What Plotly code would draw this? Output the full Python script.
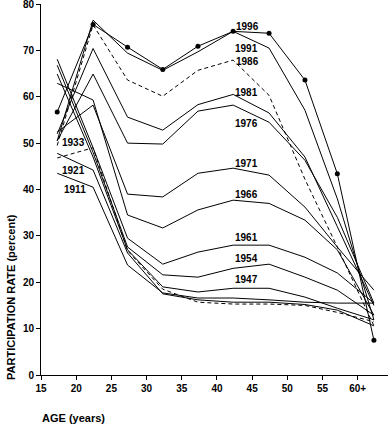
import plotly.graph_objects as go

ages = [17.3, 22.4, 27.3, 32.3, 37.3, 42.3, 47.4, 52.5, 57.1, 62.3]
x_ticks = [15, 20, 25, 30, 35, 40, 45, 50, 55, 60]
x_tick_labels = ["15", "20", "25", "30", "35", "40", "45", "50", "55", "60+"]
y_ticks = [0, 10, 20, 30, 40, 50, 60, 70, 80]

s1911 = [43.5, 40.5, 23.7, 17.7, 16.6, 16.6, 16.2, 15.7, 15.5, 15.5]
s1921 = [47.8, 44.2, 26.3, 17.5, 16.2, 15.7, 15.7, 15.2, 14.0, 10.6]
s1933 = [46.8, 49.0, 26.8, 18.5, 15.7, 15.3, 15.3, 15.0, 13.5, 11.5]
s1947 = [64.9, 47.0, 27.0, 19.0, 17.9, 18.7, 18.7, 16.8, 14.4, 11.9]
s1954 = [66.8, 48.0, 27.6, 21.6, 21.1, 23.0, 23.9, 21.1, 18.3, 12.9]
s1961 = [68.1, 49.0, 29.5, 23.9, 26.5, 28.0, 28.0, 25.4, 22.0, 15.5]
s1966 = [62.9, 59.3, 34.5, 31.7, 35.6, 37.7, 37.0, 33.4, 27.0, 12.9]
s1971 = [52.4, 58.2, 39.0, 38.4, 43.5, 44.6, 43.1, 36.2, 27.6, 18.3]
s1976 = [50.5, 64.9, 50.0, 49.8, 56.9, 58.2, 54.5, 46.3, 34.0, 15.5]
s1981 = [52.0, 70.4, 55.6, 52.8, 58.3, 60.5, 56.5, 47.0, 32.0, 15.0]
s1986 = [49.5, 75.5, 63.6, 60.1, 65.7, 67.9, 60.3, 42.2, 27.6, 10.6]
s1991 = [50.5, 76.5, 69.4, 65.7, 69.7, 74.1, 70.5, 57.1, 38.0, 11.9]
s1996 = [56.7, 75.6, 70.7, 65.9, 70.9, 74.1, 73.7, 63.6, 43.4, 7.5]

series = [
    ("1911", s1911, "solid"), ("1921", s1921, "solid"), ("1933", s1933, "dash"),
    ("1947", s1947, "solid"), ("1954", s1954, "solid"), ("1961", s1961, "solid"),
    ("1966", s1966, "solid"), ("1971", s1971, "solid"), ("1976", s1976, "solid"),
    ("1981", s1981, "solid"), ("1986", s1986, "dash"), ("1991", s1991, "solid"),
    ("1996", s1996, "solid"),
]

label_years = ["1911", "1921", "1933", "1947", "1954", "1961", "1966", "1971",
               "1976", "1981", "1986", "1991", "1996"]
label_x = [19.8, 19.6, 19.6, 44.2, 44.2, 44.2, 44.2, 44.2, 44.2, 44.2, 44.3, 44.2, 44.3]
label_y = [39.9, 44.0, 50.2, 20.5, 25.2, 29.7, 39.0, 45.7, 54.3, 61.0, 67.7, 70.3, 75.2]

fig = go.Figure()
for name, vals, dash in series:
    fig.add_trace(go.Scatter(
        x=ages, y=vals, name=name,
        mode="lines+markers" if name == "1996" else "lines",
        line=dict(color="black", width=1, dash="4px,3px" if dash == "dash" else "solid"),
        marker=dict(color="black", size=5),
        showlegend=False,
    ))

for t, lx, ly in zip(label_years, label_x, label_y):
    fig.add_annotation(x=lx, y=ly, text="<b>%s</b>" % t, showarrow=False,
                       font=dict(family="Liberation Sans", size=10, color="black"),
                       xanchor="center", yanchor="middle")

fig.add_annotation(xref="paper", yref="paper", x=-0.085, y=-0.02,
                   text="<b>PARTICIPATION RATE (percent)</b>", textangle=-90,
                   showarrow=False, xanchor="center", yanchor="bottom",
                   font=dict(family="Liberation Sans", size=11, color="black"))
fig.add_annotation(xref="paper", yref="paper", x=-0.003, y=-0.093,
                   text="<b>AGE (years)</b>", showarrow=False,
                   xanchor="left", yanchor="top",
                   font=dict(family="Liberation Sans", size=11, color="black"))

fig.update_layout(
    width=390, height=430,
    margin=dict(l=41, r=2, t=4, b=55, autoexpand=False),
    paper_bgcolor="white", plot_bgcolor="white",
    font=dict(family="Liberation Sans", size=10, color="black"),
    xaxis=dict(range=[15, 64.3], tickvals=x_ticks, automargin=False,
               ticktext=["<b>%s</b>" % s for s in x_tick_labels],
               ticklabeloverflow="allow",
               showgrid=False, zeroline=False, showline=True, linecolor="black",
               linewidth=1, ticks="outside", ticklen=4, tickcolor="black"),
    yaxis=dict(range=[0, 80], tickvals=y_ticks, automargin=False,
               ticktext=["<b>%d</b>" % v for v in y_ticks],
               ticklabeloverflow="allow",
               showgrid=False, zeroline=False, showline=True, linecolor="black",
               linewidth=1, ticks="outside", ticklen=4, tickcolor="black"),
)

fig.write_html(
    "out.html",
    config={"displayModeBar": False},
    post_script="document.body.style.margin='0';document.body.style.padding='0';"
                "document.documentElement.style.overflow='hidden';",
)
